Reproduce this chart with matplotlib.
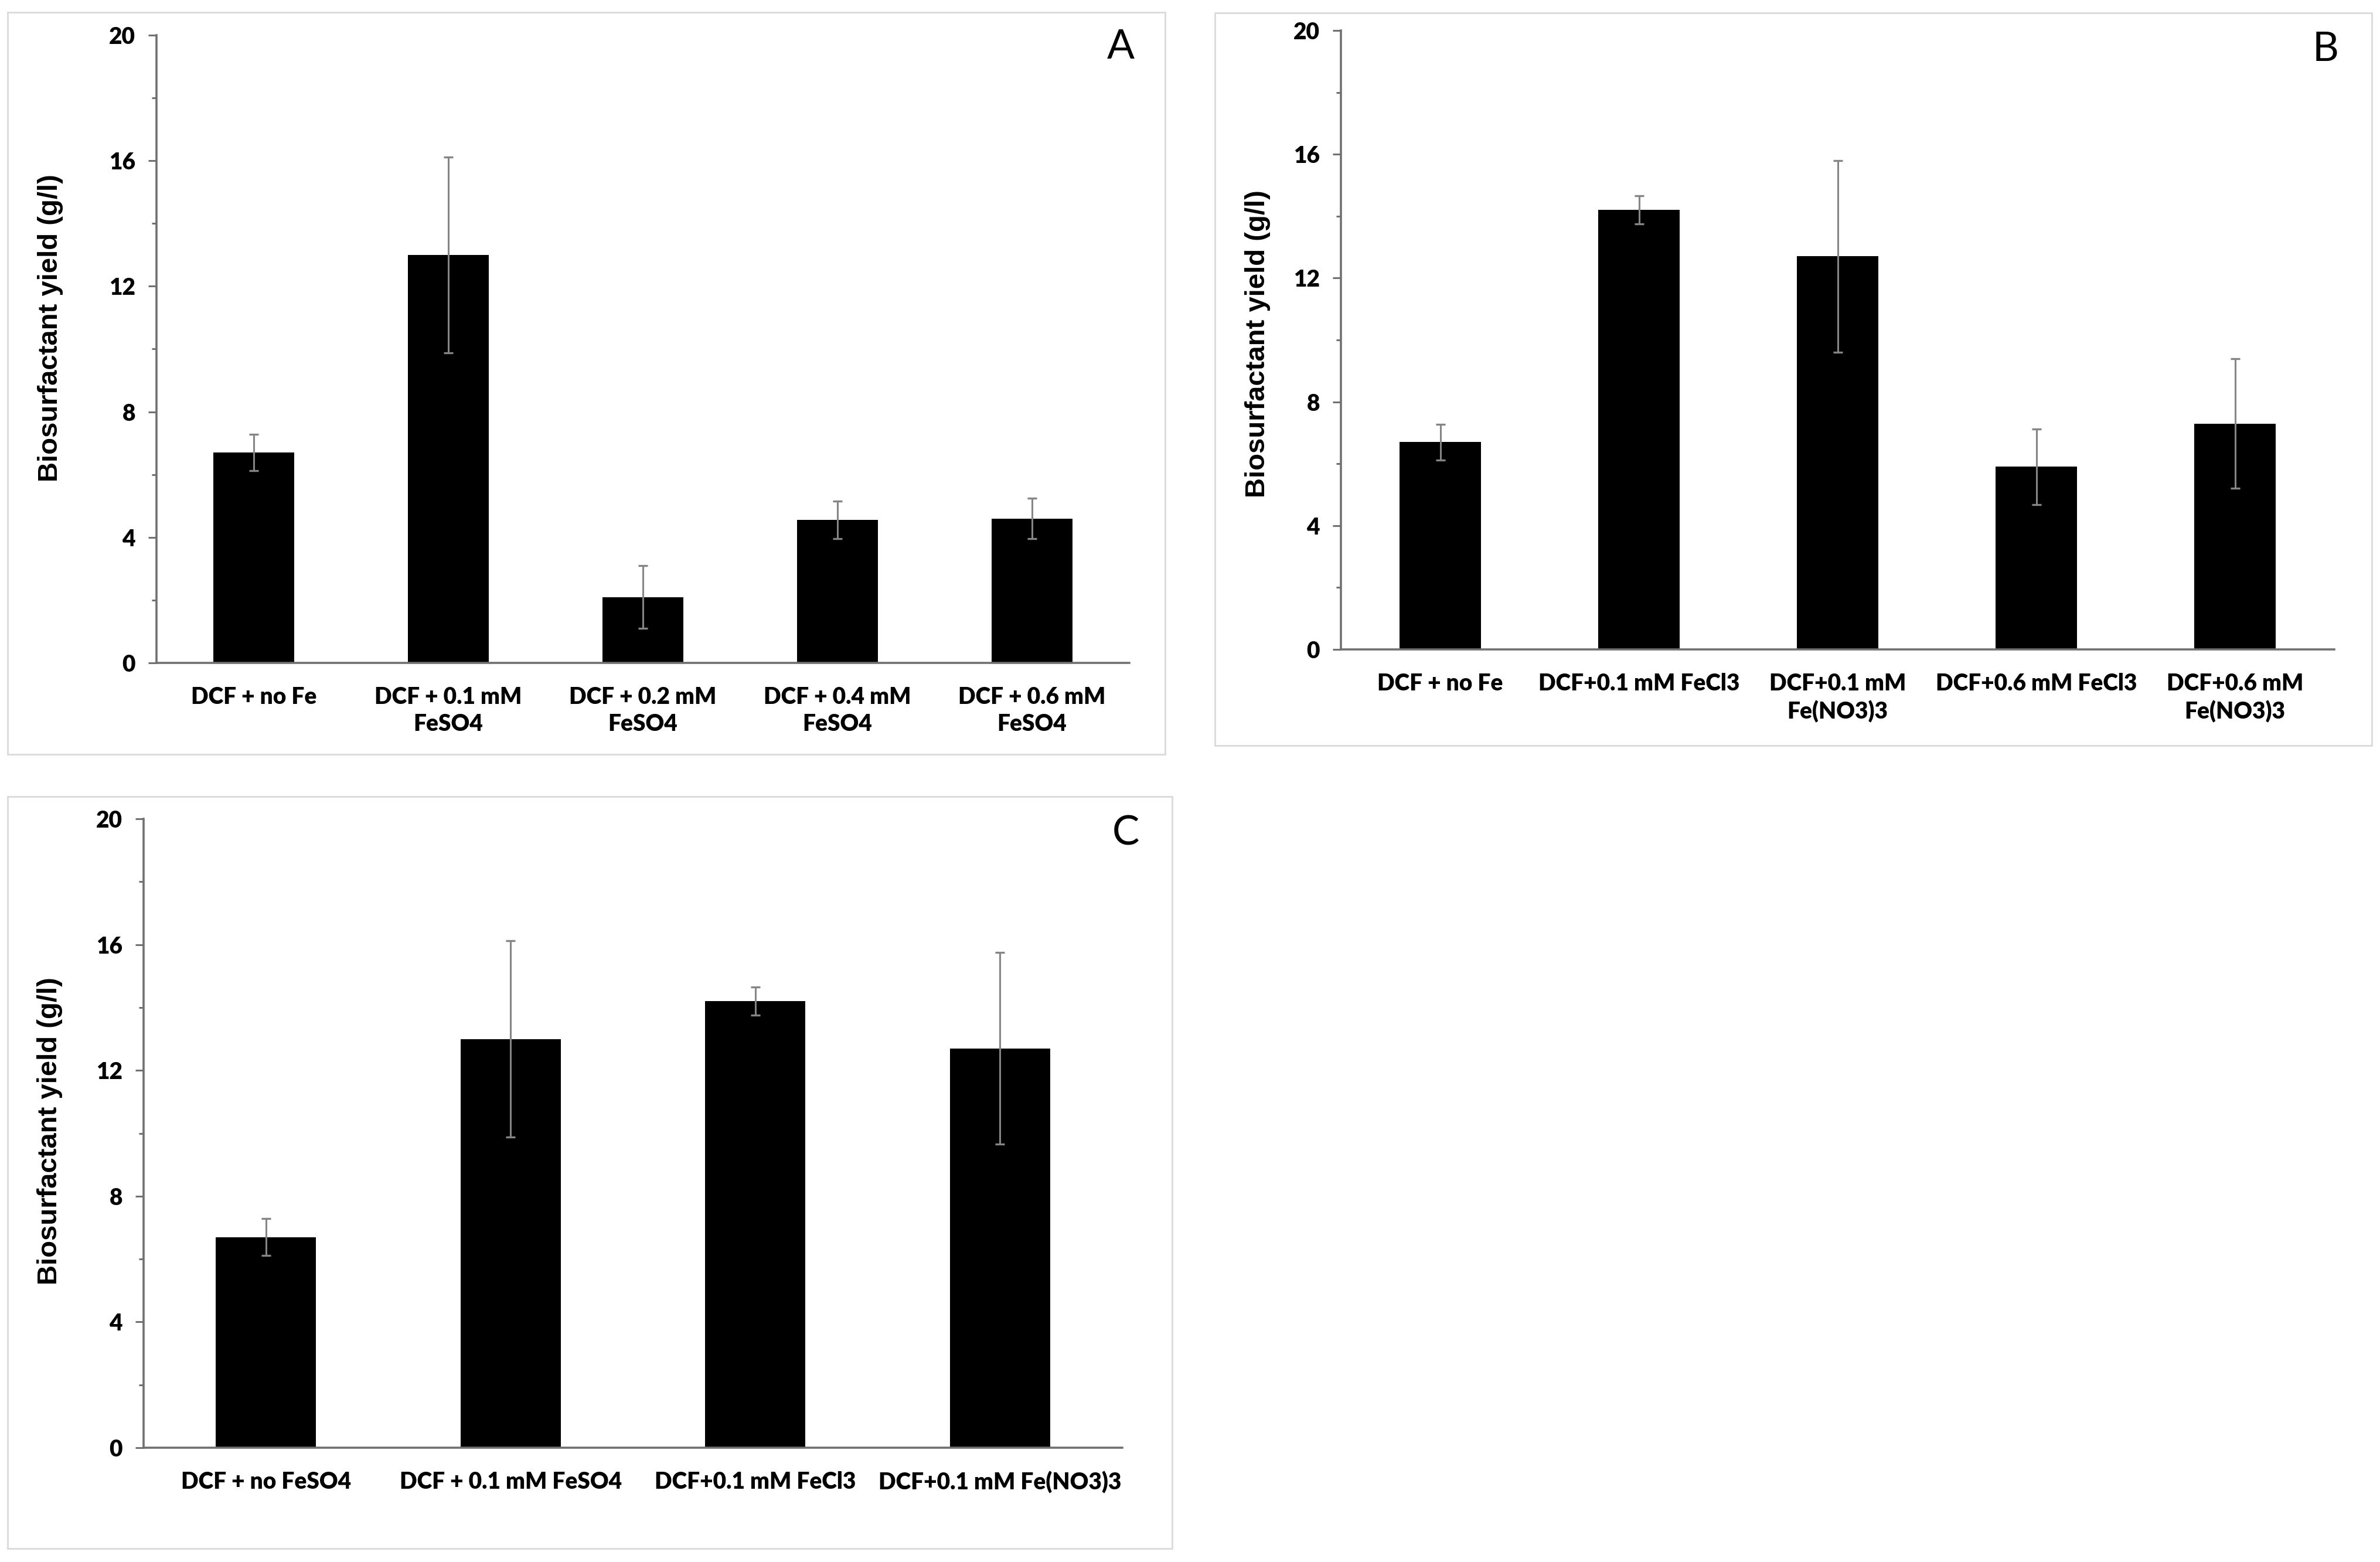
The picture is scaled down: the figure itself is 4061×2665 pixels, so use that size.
import matplotlib
matplotlib.use("Agg")
import matplotlib.pyplot as plt
from matplotlib.patches import Rectangle
from matplotlib.ticker import MultipleLocator

# panel A: FeSO4 concentrations
a_labels = ["DCF + no Fe", "DCF + 0.1 mM\nFeSO4", "DCF + 0.2 mM\nFeSO4",
            "DCF + 0.4 mM\nFeSO4", "DCF + 0.6 mM\nFeSO4"]
a_yield = [6.7, 13.0, 2.1, 4.55, 4.6]
a_err = [0.58, 3.12, 1.0, 0.6, 0.65]

# panel B: FeCl3 / Fe(NO3)3
b_labels = ["DCF + no Fe", "DCF+0.1 mM FeCl3", "DCF+0.1 mM\nFe(NO3)3",
            "DCF+0.6 mM FeCl3", "DCF+0.6 mM\nFe(NO3)3"]
b_yield = [6.7, 14.2, 12.7, 5.9, 7.3]
b_err = [0.58, 0.45, 3.1, 1.22, 2.1]

# panel C: comparison at 0.1 mM
c_labels = ["DCF + no FeSO4", "DCF + 0.1 mM FeSO4", "DCF+0.1 mM FeCl3",
            "DCF+0.1 mM Fe(NO3)3"]
c_yield = [6.7, 13.0, 14.2, 12.7]
c_err = [0.58, 3.12, 0.45, 3.05]

W, H = 4061, 2665
fig = plt.figure(figsize=(W / 100, H / 100), dpi=100)

narrow = ['Lato', 'DejaVu Sans']
wide = ['Liberation Sans', 'DejaVu Sans']
axis_col = '#707070'


def panel(box, ax_px, labels, vals, errs, letter, letter_xy, ylab_xy, width):
    # light frame round the panel
    x0, y0, x1, y1 = box
    fig.add_artist(Rectangle((x0 / W, 1 - y1 / H), (x1 - x0) / W, (y1 - y0) / H,
                             transform=fig.transFigure, fill=False,
                             edgecolor='#dcdcdc', linewidth=2.2))
    l, t, r, b = ax_px
    ax = fig.add_axes([l / W, 1 - b / H, (r - l) / W, (b - t) / H])
    x = list(range(len(vals)))
    ax.bar(x, vals, width=width, color='black', zorder=2)
    ax.errorbar(x, vals, yerr=errs, fmt='none', ecolor='#858585',
                elinewidth=2.2, capsize=6, capthick=2.4, zorder=3)
    ax.set_xlim(-0.5, len(vals) - 0.5)
    ax.set_ylim(0, 20)
    ax.yaxis.set_major_locator(MultipleLocator(4))
    ax.yaxis.set_minor_locator(MultipleLocator(2))
    for s in ['top', 'right']:
        ax.spines[s].set_visible(False)
    for s in ['left', 'bottom']:
        ax.spines[s].set_color(axis_col)
        ax.spines[s].set_linewidth(2.6)
    ax.tick_params(axis='y', which='major', direction='out', length=10,
                   width=2.2, color=axis_col, pad=16)
    ax.tick_params(axis='y', which='minor', direction='out', length=6,
                   width=2.2, color=axis_col)
    ax.tick_params(axis='x', length=0, pad=29)
    ax.set_xticks(x)
    ax.set_xticklabels(labels, fontsize=28, fontweight='heavy', family=narrow,
                       linespacing=1.3)
    for lab in ax.get_yticklabels():
        lab.set_fontsize(28)
        lab.set_fontweight('heavy')
        lab.set_family(narrow)
    fig.text(ylab_xy[0] / W, 1 - ylab_xy[1] / H, "Biosurfactant yield (g/l)",
             rotation=90, ha='center', va='center', fontsize=34,
             fontweight='bold', family=wide)
    fig.text(letter_xy[0] / W, 1 - letter_xy[1] / H, letter, ha='center',
             va='baseline', fontsize=50, family=narrow)
    return ax


panel((13, 21, 1988, 1287), (267, 60, 1927, 1131), a_labels, a_yield, a_err,
      "A", (1912, 100), (86, 560), 0.415)
panel((2073, 22, 4047, 1272), (2288, 52, 3983, 1108), b_labels, b_yield, b_err,
      "B", (3968, 104), (2146, 587), 0.41)
panel((13, 1359, 2000, 2642), (245, 1397, 1915, 2470), c_labels, c_yield, c_err,
      "C", (1921, 1441), (85, 1930), 0.41)

fig.savefig("out.png", dpi=100, facecolor='white')
